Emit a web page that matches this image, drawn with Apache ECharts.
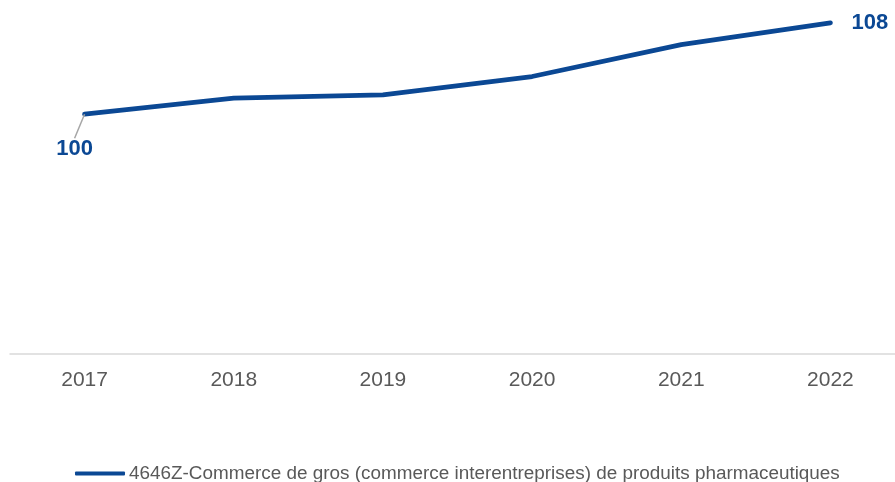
<!DOCTYPE html>
<html>
<head>
<meta charset="utf-8">
<script src="https://cdn.jsdelivr.net/npm/echarts@6/dist/echarts.min.js"></script>
<style>html,body{margin:0;padding:0;background:#fff}#c{width:895px;height:482px}</style>
</head>
<body>
<div id="c"></div>
<script>
var categories = ['2017', '2018', '2019', '2020', '2021', '2022'];
var values = [100, 101.4, 101.7, 103.3, 106.1, 108];
var seriesName = '4646Z-Commerce de gros (commerce interentreprises) de produits pharmaceutiques';
var labelled = {0: 'bottom', 5: 'right'};

var mainColor = '#0b4894';
var chart = echarts.init(document.getElementById('c'));
var data = values.map(function (v, i) {
  var item = {value: v};
  if (labelled[i]) {
    item.label = {show: true, position: labelled[i], distance: labelled[i] === 'right' ? 21 : 5,
      formatter: function (p) { return Math.round(p.value); }};
    if (i === 0) item.labelLine = {show: true, lineStyle: {color: '#a6a6a6', width: 1.5}};
  }
  return item;
});
chart.setOption({
  animation: false,
  grid: {left: 10, width: 895, top: 0, bottom: 128, outerBoundsMode: 'none', containLabel: false},
  xAxis: {
    type: 'category', data: categories, boundaryGap: true,
    axisLine: {lineStyle: {color: '#d9d9d9', width: 1.5}},
    axisTick: {show: false},
    axisLabel: {color: '#595959', fontSize: 21, fontFamily: 'Liberation Sans, Arial', margin: 16}
  },
  yAxis: {type: 'value', min: 79, max: 110, show: false, splitLine: {show: false}},
  legend: {
    left: 70, top: 459, itemWidth: 50, itemHeight: 4, itemGap: 10,
    icon: 'roundRect',
    textStyle: {color: '#595959', fontSize: 18.9, fontFamily: 'Liberation Sans, Arial', padding: [0, 0, 0, -1]},
    data: [seriesName]
  },
  series: [{
    name: seriesName, type: 'line', data: data,
    symbol: 'circle', symbolSize: 0.1, showSymbol: true,
    itemStyle: {color: mainColor},
    lineStyle: {color: mainColor, width: 4.8, cap: 'round'},
    label: {show: false, color: mainColor, fontSize: 22, fontWeight: 'bold', fontFamily: 'Liberation Sans, Arial'},
    labelLayout: function (p) { return p.dataIndex === 0 ? {dx: -10, dy: 19} : {}; }
  }]
});
</script>
</body>
</html>
